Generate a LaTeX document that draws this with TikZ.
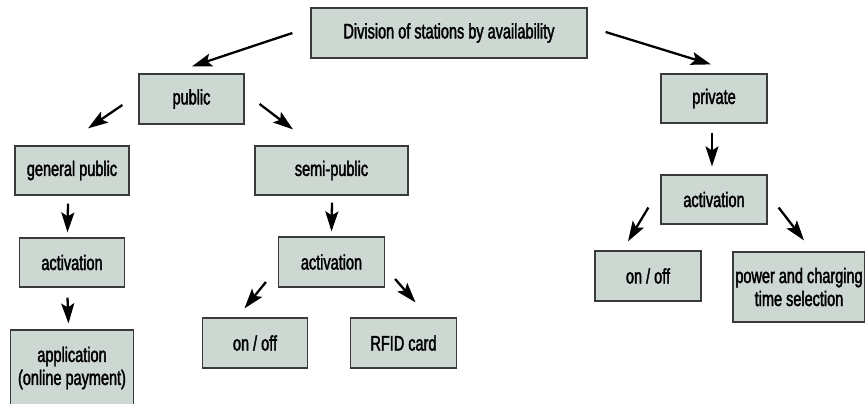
\documentclass[tikz,border=0pt]{standalone}
\usepackage{fontspec}
\setmainfont[FakeStretch=0.69,FakeBold=1.8]{Liberation Sans}
\usepackage{tikz}
\usetikzlibrary{calc,shapes,arrows,arrows.meta,positioning}
\definecolor{boxfill}{RGB}{205,216,210}
\definecolor{boxline}{RGB}{58,58,58}
\tikzset{
     box node/.style={draw=boxline, fill=boxfill, line width=1.2pt, inner sep=0pt, align=center,
                      font=\fontsize{21}{23}\selectfont},
      availedge/.style = {black, line width=2.3pt, -{Stealth[length=20pt,width=13pt,inset=4pt]}},
    }

\begin{document}
\begin{tikzpicture}[x=1pt,y=-1pt,on grid,semithick]
        \useasboundingbox (0,0) rectangle (865,404);
        \node [box node, minimum width=276pt, minimum height=50pt] (root) at (449,33) {Division of stations by availability};
        \node [box node, minimum width=105pt, minimum height=50pt] (public)  [below left=66pt and 257.5pt of root]  {public};
        \node [box node, minimum width=106pt, minimum height=49pt] (private) [below right=65.5pt and 265pt of root] {private};
        \node [box node, minimum width=114pt, minimum height=49pt] (gpub)    [below left=71.5pt and 119.5pt of public] {general public};
        \node [box node, minimum width=153pt, minimum height=49pt] (semi)    [below right=71.5pt and 140pt of public] {semi-public};
        \node [box node, minimum width=105pt, minimum height=49pt] (actL)    [below=92pt of gpub]   {activation};
        \node [box node, minimum width=123pt, minimum height=76pt] (app)     [below=105.5pt of actL] {application\\(online payment)};
        \node [box node, minimum width=106pt, minimum height=50pt] (actM)    [below=91.5pt of semi] {activation};
        \node [box node, minimum width=105pt, minimum height=50pt] (onoffM)  [below left=81pt and 76.5pt of actM] {on / off};
        \node [box node, minimum width=106pt, minimum height=50pt] (rfid)    [below right=81pt and 72pt of actM] {RFID card};
        \node [box node, minimum width=106pt, minimum height=49pt] (actR)    [below=101pt of private] {activation};
        \node [box node, minimum width=106pt, minimum height=50pt] (onoffR)  [below left=76.5pt and 66pt of actR] {on / off};
        \node [box node, minimum width=132pt, minimum height=70pt] (power)   [below right=87.5pt and 85pt of actR] {power and charging\\time selection};

        \draw [availedge] ($(root.west)+(-18,0)$)     -- ($(public.north)+(0.5,-7)$);
        \draw [availedge] ($(root.east)+(18,-1)$)     -- ($(private.north)+(-3,-9)$);
        \draw [availedge] ($(public.west)+(-16,6)$)   -- ($(gpub.north)+(16,-17)$);
        \draw [availedge] ($(public.east)+(15,5)$)    -- ($(semi.north)+(-38.5,-16)$);
        \draw [availedge] ($(gpub.south)+(-4,8)$)     -- ($(actL.north)+(-4.5,-5)$);
        \draw [availedge] ($(actL.south)+(-4.5,10)$)  -- ($(app.north)+(-3.5,-6)$);
        \draw [availedge] ($(semi.south)+(0.5,7)$)    -- ($(actM.north)+(0,-5)$);
        \draw [availedge] ($(actM.west)+(-12,20)$)    -- ($(onoffM.north)+(-10.5,-9)$);
        \draw [availedge] ($(actM.east)+(10,17)$)     -- ($(rfid.north)+(12,-15)$);
        \draw [availedge] ($(private.south)+(-2,9)$)  -- ($(actR.north)+(-2,-8)$);
        \draw [availedge] ($(actR.west)+(-12,8)$)     -- ($(onoffR.north)+(-20,-9)$);
        \draw [availedge] ($(actR.east)+(11,8)$)      -- ($(power.north)+(5,-11)$);
    \end{tikzpicture}
\end{document}
